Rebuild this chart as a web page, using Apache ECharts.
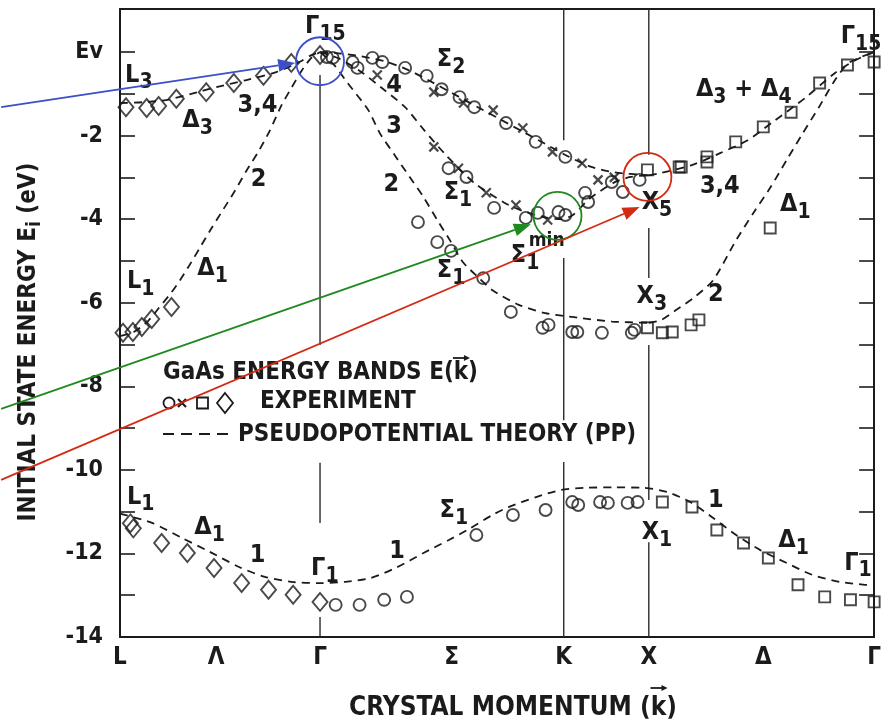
<!DOCTYPE html>
<html><head><meta charset="utf-8">
<script src="https://cdn.jsdelivr.net/npm/echarts@6/dist/echarts.min.js"></script>
<style>html,body{margin:0;padding:0;background:#fff}#c{width:884px;height:726px}</style>
</head><body><div id="c"></div>
<script>
// ---------- axes ----------
const kTickValues = [0, 0.418, 0.87, 1.442, 1.93, 2.30, 2.798, 3.28];
const kTickLabels = ['L', 'Λ', 'Γ', 'Σ', 'K', 'X', 'Δ', 'Γ'];
const eTickValues = [-14,-13,-12,-11,-10,-9,-8,-7,-6,-5,-4,-3,-2,-1,0];
const eLabelValues = [-14,-12,-10,-8,-6,-4,-2,0];
const eLabelTexts = ['-14','-12','-10','-8','-6','-4','-2','Ev'];
const symPoints = [0.87, 1.93, 2.30];

// ---------- pseudopotential theory (dashed) ----------
const ppLG34 = [[0,-1.22],[0.10,-1.20],[0.20,-1.15],[0.31,-1.00],[0.42,-0.84],[0.55,-0.67],[0.68,-0.48],[0.78,-0.24],[0.83,-0.08],[0.87,0]];
const ppLG2 = [[0,-6.80],[0.06,-6.70],[0.12,-6.45],[0.17,-6.12],[0.22,-5.78],[0.26,-5.47],[0.30,-5.12],[0.35,-4.66],[0.40,-4.20],[0.45,-3.76],[0.50,-3.32],[0.55,-2.84],[0.60,-2.40],[0.65,-1.90],[0.70,-1.30],[0.74,-0.91],[0.79,-0.45],[0.83,-0.15],[0.87,0]];
const ppSigma4 = [[0.87,0],[0.95,-0.03],[1.05,-0.10],[1.15,-0.22],[1.25,-0.42],[1.35,-0.70],[1.45,-1.00],[1.55,-1.30],[1.65,-1.60],[1.75,-1.90],[1.85,-2.20],[1.95,-2.50],[2.05,-2.75],[2.15,-2.88],[2.30,-2.95]];
const ppSigma3 = [[0.87,0],[0.95,-0.15],[1.05,-0.48],[1.15,-0.91],[1.24,-1.32],[1.32,-1.85],[1.41,-2.42],[1.54,-3.13],[1.67,-3.60],[1.75,-3.80],[1.85,-3.96],[1.92,-4.00],[1.97,-3.90],[2.04,-3.52],[2.15,-3.12],[2.22,-2.99],[2.30,-2.95]];
const ppSigma2 = [[0.87,0],[0.93,-0.30],[0.99,-0.74],[1.08,-1.39],[1.13,-1.94],[1.20,-2.51],[1.26,-2.99],[1.32,-3.47],[1.38,-4.02],[1.44,-4.55],[1.49,-5.02],[1.56,-5.40],[1.62,-5.70],[1.735,-6.05],[1.85,-6.25],[1.94,-6.32],[2.01,-6.37],[2.14,-6.45],[2.30,-6.48]];
const ppDelta34 = [[2.30,-2.95],[2.35,-2.90],[2.49,-2.70],[2.61,-2.42],[2.73,-2.11],[2.85,-1.63],[2.98,-1.10],[3.11,-0.50],[3.20,-0.19],[3.28,0]];
const ppDelta1 = [[2.30,-6.48],[2.355,-6.41],[2.42,-6.17],[2.50,-5.86],[2.58,-5.46],[2.68,-4.50],[2.755,-3.85],[2.83,-3.23],[2.90,-2.58],[2.97,-1.94],[3.04,-1.32],[3.11,-0.67],[3.17,-0.26],[3.28,0]];
const ppBand1 = [[0,-11.05],[0.14,-11.27],[0.27,-11.63],[0.39,-11.96],[0.52,-12.33],[0.63,-12.56],[0.745,-12.68],[0.87,-12.71],[0.98,-12.68],[1.09,-12.59],[1.205,-12.33],[1.32,-11.99],[1.43,-11.68],[1.51,-11.44],[1.62,-11.08],[1.69,-10.89],[1.81,-10.65],[1.92,-10.48],[2.02,-10.43],[2.15,-10.42],[2.28,-10.43],[2.38,-10.53],[2.48,-10.77],[2.58,-11.15],[2.68,-11.56],[2.785,-11.92],[2.90,-12.23],[3.01,-12.51],[3.13,-12.68],[3.24,-12.75],[3.28,-12.76]];

// ---------- experiment ----------
const expCircles = [[0.90,-0.12],[0.925,-0.14],[1.012,-0.24],[1.033,-0.38],[1.098,-0.14],[1.141,-0.24],[1.240,-0.38],[1.334,-0.57],[1.399,-0.89],[1.477,-1.08],[1.541,-1.32],[1.679,-1.70],[1.808,-2.15],[1.937,-2.51],
  [1.429,-2.78],[1.507,-2.99],[1.627,-3.73],[1.765,-3.97],[1.817,-3.85],[1.907,-3.83],[1.937,-3.90],[2.023,-3.37],[2.036,-3.59],[2.139,-3.11],[2.187,-3.35],[2.260,-3.06],
  [1.296,-4.07],[1.38,-4.55],[1.44,-4.76],[1.58,-5.41],[1.70,-6.22],[1.838,-6.60],[1.864,-6.53],[1.967,-6.70],[1.989,-6.70],[2.096,-6.72],[2.226,-6.72],[2.238,-6.65],
  [0.938,-13.23],[1.042,-13.23],[1.149,-13.11],[1.248,-13.04],[1.55,-11.56],[1.709,-11.08],[1.851,-10.96],[1.967,-10.77],[1.993,-10.84],[2.088,-10.77],[2.122,-10.79],[2.208,-10.79],[2.251,-10.77]];
const expCrosses = [[1.119,-0.55],[1.365,-0.96],[1.494,-1.22],[1.623,-1.39],[1.752,-1.82],[1.881,-2.39],[2.010,-2.66],[1.365,-2.27],[1.472,-2.78],[1.593,-3.37],[1.722,-3.66],[1.860,-4.02],[2.079,-3.06],[2.15,-3.00]];
const expSquares = [[2.294,-2.82],[2.432,-2.75],[2.441,-2.75],[2.553,-2.51],[2.553,-2.63],[2.678,-2.15],[2.798,-1.79],[2.919,-1.44],[3.043,-0.74],[3.164,-0.31],[3.28,-0.24],[2.828,-4.21],
  [2.294,-6.60],[2.359,-6.72],[2.402,-6.70],[2.484,-6.53],[2.518,-6.41],
  [2.359,-10.77],[2.488,-10.89],[2.596,-11.44],[2.712,-11.75],[2.820,-12.11],[2.949,-12.75],[3.065,-13.04],[3.177,-13.11],[3.28,-13.16]];
const expDiamonds = [[0.026,-1.32],[0.116,-1.34],[0.168,-1.29],[0.245,-1.12],[0.375,-0.96],[0.495,-0.74],[0.624,-0.57],[0.745,-0.26],[0.870,-0.07],
  [0.013,-6.72],[0.056,-6.70],[0.095,-6.58],[0.138,-6.39],[0.224,-6.10],
  [0.045,-11.28],[0.058,-11.40],[0.181,-11.75],[0.293,-11.99],[0.409,-12.35],[0.529,-12.71],[0.646,-12.87],[0.753,-12.99],[0.870,-13.16]];

// ---------- band labels [k, E, main, subscript, align] ----------
const bandLabels = [
  [0.022,-0.55,'L','3','l'], [0.271,-1.65,'Δ','3','l'], [0.598,-1.29,'3,4','','c'], [0.603,-3.06,'2','','c'],
  [0.030,-5.50,'L','1','l'], [0.336,-5.17,'Δ','1','l'], [0.805,0.62,'Γ','15','l'],
  [1.378,-0.17,'Σ','2','l'], [1.192,-0.81,'4','','c'], [1.192,-1.79,'3','','c'], [1.180,-3.18,'2','','c'],
  [1.408,-3.37,'Σ','1','l'], [1.378,-5.24,'Σ','1','l'], [1.700,-4.88,'Σ','1','l'],
  [2.247,-5.86,'X','3','l'], [2.592,-5.81,'2','','c'], [2.269,-3.61,'X','5','l'], [2.609,-3.23,'3,4','','c'],
  [2.871,-3.64,'Δ','1','l'], [3.135,0.36,'Γ','15','l'],
  [0.030,-10.65,'L','1','l'], [0.323,-11.39,'Δ','1','l'], [0.598,-12.06,'1','','c'], [0.831,-12.35,'Γ','1','l'],
  [1.205,-11.96,'1','','c'], [1.390,-10.98,'Σ','1','l'], [2.269,-11.51,'X','1','l'], [2.592,-10.74,'1','','c'],
  [2.863,-11.70,'Δ','1','l'], [3.150,-12.23,'Γ','1','l']
];

const INK = '#1b1b1b';
const FONT = '"DejaVu Sans Condensed","Liberation Sans Narrow","DejaVu Sans",sans-serif';

function dashed(name, data) {
  return { name, type: 'line', data, smooth: 0.25, symbol: 'none', silent: true, z: 2,
    lineStyle: { color: INK, width: 1.8, type: [8, 6] } };
}
function pts(name, data, symbol, size, bw) {
  return { name, type: 'scatter', data, symbol, symbolSize: size, z: 3,
    itemStyle: { color: 'rgba(0,0,0,0)', borderColor: INK, borderWidth: bw || 1.9 } };
}
function near(arr, v) { return arr.findIndex(a => Math.abs(a - v) < 1e-6); }

const chart = echarts.init(document.getElementById('c'));
const axisLineStyle = { color: INK, width: 2 };
chart.setOption({
  animation: false,
  grid: { left: 120, right: 2, top: 9, bottom: 89 },
  xAxis: [
    { type: 'value', min: 0, max: 3.28, position: 'bottom',
      axisLine: { show: true, onZero: false, lineStyle: axisLineStyle }, axisTick: { show: false }, splitLine: { show: false },
      axisLabel: { customValues: kTickValues, formatter: v => kTickLabels[near(kTickValues, v)] || '',
        color: INK, fontFamily: FONT, fontWeight: 'bold', fontSize: 24, margin: 9 } },
    { type: 'value', min: 0, max: 3.28, position: 'top',
      axisLine: { show: true, onZero: false, lineStyle: axisLineStyle }, axisTick: { show: false }, axisLabel: { show: false }, splitLine: { show: false } }
  ],
  yAxis: [
    { type: 'value', min: -14, max: 1.03, position: 'left',
      axisLine: { show: true, onZero: false, lineStyle: axisLineStyle },
      axisTick: { show: true, inside: true, length: 15, customValues: eTickValues, lineStyle: { color: INK, width: 1.6 } },
      axisLabel: { customValues: eLabelValues, formatter: v => eLabelTexts[near(eLabelValues, v)] || '',
        color: INK, fontFamily: FONT, fontWeight: 'bold', fontSize: 23, margin: 17 },
      splitLine: { show: false } },
    { type: 'value', min: -14, max: 1.03, position: 'right',
      axisLine: { show: true, onZero: false, lineStyle: axisLineStyle },
      axisTick: { show: true, inside: true, length: 15, customValues: eTickValues, lineStyle: { color: INK, width: 1.6 } },
      axisLabel: { show: false }, splitLine: { show: false } }
  ],
  series: [
    dashed('PP L-Γ 3,4', ppLG34), dashed('PP L-Γ 2', ppLG2),
    dashed('PP Σ 4', ppSigma4), dashed('PP Σ 3', ppSigma3), dashed('PP Σ 2', ppSigma2),
    dashed('PP Δ 3,4', ppDelta34), dashed('PP Δ 2', ppDelta1), dashed('PP band 1', ppBand1),
    pts('Experiment circles', expCircles, 'circle', 12),
    pts('Experiment crosses', expCrosses, 'path://M0,0L10,10M10,0L0,10', 9, 2.2),
    pts('Experiment squares', expSquares, 'rect', 11),
    pts('Experiment diamonds', expDiamonds, 'diamond', [15, 18])
  ]
});

// ---------- overlays ----------
const P = (k, E) => chart.convertToPixel({ xAxisIndex: 0, yAxisIndex: 0 }, [k, E]);
const mctx = document.createElement('canvas').getContext('2d');
function tw(str, size) { mctx.font = 'bold ' + size + 'px ' + FONT; return mctx.measureText(str).width; }
const G = [];
const MAIN = 25, SUB = 21;

// symmetry-point vertical lines (broken around labels)
const vSegs = [[0,-0.55,-7.01],[0,-9.83,-11.27],[0,-13.52,-14],[1,1.03,-2.11],[1,-4.93,-8.81],[1,-9.81,-14],[2,1.03,-2.46],[2,-4.21,-5.41],[2,-7.01,-10.72],[2,-11.73,-14]];
vSegs.forEach(s => {
  const a = P(symPoints[s[0]], s[1]), b = P(symPoints[s[0]], s[2]);
  G.push({ type: 'line', shape: { x1: a[0], y1: a[1], x2: b[0], y2: b[1] }, style: { stroke: '#2a2a2a', lineWidth: 1.4 }, z: 1 });
});

const richSub = {
  m: { fontFamily: FONT, fontWeight: 'bold', fontSize: MAIN, lineHeight: 24, padding: [0, 0, 8, 0], fill: INK },
  s: { fontFamily: FONT, fontWeight: 'bold', fontSize: SUB, lineHeight: 24, padding: [8, 0, 0, 0], fill: INK }
};
// band labels
bandLabels.forEach(b => {
  const p = P(b[0], b[1]);
  if (b[3]) {
    G.push({ type: 'text', x: p[0], y: p[1] + 4, z: 5, style: {
      text: '{m|' + b[2] + '}{s|' + b[3] + '}', align: 'left', verticalAlign: 'middle', fill: INK, rich: richSub } });
  } else {
    G.push({ type: 'text', x: p[0], y: p[1], z: 5, style: { text: b[2], align: 'center', verticalAlign: 'middle',
      fontFamily: FONT, fontWeight: 'bold', fontSize: MAIN, fill: INK } });
  }
});
// "min" superscript and Δ3 + Δ4
(function () {
  const p = P(1.778, -4.52);
  G.push({ type: 'text', x: p[0], y: p[1], z: 5, style: { text: 'min', align: 'left', verticalAlign: 'middle', fontFamily: FONT, fontWeight: 'bold', fontSize: 19, fill: INK } });
  const q = P(2.505, -0.89);
  G.push({ type: 'text', x: q[0], y: q[1] + 4, z: 5, style: {
    text: '{m|Δ}{s|3}{m| + Δ}{s|4}', align: 'left', verticalAlign: 'middle', fill: INK, rich: richSub } });
})();

// vector arrow helper (small arrow above a letter)
function vecArrow(cx, y) {
  G.push({ type: 'line', shape: { x1: cx - 8, y1: y, x2: cx + 7, y2: y }, style: { stroke: INK, lineWidth: 1.8 }, z: 5 });
  G.push({ type: 'polygon', shape: { points: [[cx + 9, y], [cx + 3, y - 3], [cx + 3, y + 3]] }, style: { fill: INK }, z: 5 });
}

// legend block
const LX = 163, LS = 24;
G.push({ type: 'text', x: LX, y: 373, z: 5, style: { text: 'GaAs ENERGY BANDS E(k)', align: 'left', verticalAlign: 'middle', fontFamily: FONT, fontWeight: 'bold', fontSize: LS, fill: INK } });
vecArrow(LX + tw('GaAs ENERGY BANDS E(', LS) + tw('k', LS) / 2, 358);
G.push({ type: 'circle', shape: { cx: 169, cy: 403, r: 5.5 }, style: { fill: 'none', stroke: INK, lineWidth: 1.8 }, z: 5 });
G.push({ type: 'polyline', shape: { points: [[178, 399], [186, 407]] }, style: { stroke: INK, lineWidth: 2.2 }, z: 5 });
G.push({ type: 'polyline', shape: { points: [[186, 399], [178, 407]] }, style: { stroke: INK, lineWidth: 2.2 }, z: 5 });
G.push({ type: 'rect', shape: { x: 197, y: 397.5, width: 11, height: 11 }, style: { fill: 'none', stroke: INK, lineWidth: 1.8 }, z: 5 });
G.push({ type: 'polygon', shape: { points: [[225, 393], [233, 403], [225, 413], [217, 403]] }, style: { fill: 'none', stroke: INK, lineWidth: 1.8 }, z: 5 });
G.push({ type: 'text', x: 260, y: 402, z: 5, style: { text: 'EXPERIMENT', align: 'left', verticalAlign: 'middle', fontFamily: FONT, fontWeight: 'bold', fontSize: LS, fill: INK } });
G.push({ type: 'line', shape: { x1: 163, y1: 434, x2: 228, y2: 434 }, style: { stroke: INK, lineWidth: 2, lineDash: [11, 7] }, z: 5 });
G.push({ type: 'text', x: 238, y: 435, z: 5, style: { text: 'PSEUDOPOTENTIAL THEORY (PP)', align: 'left', verticalAlign: 'middle', fontFamily: FONT, fontWeight: 'bold', fontSize: LS, fill: INK } });

// axis titles
const XT = 'CRYSTAL MOMENTUM (k)', XS = 26, xtCx = 513, xtY = 708;
G.push({ type: 'text', x: xtCx, y: xtY, z: 5, style: { text: XT, align: 'center', verticalAlign: 'middle', fontFamily: FONT, fontWeight: 'bold', fontSize: XS, fill: INK } });
vecArrow(xtCx - tw(XT, XS) / 2 + tw('CRYSTAL MOMENTUM (', XS) + tw('k', XS) / 2, 688);
G.push({ type: 'text', x: 32, y: 342, rotation: Math.PI / 2, z: 5, style: {
  text: '{m|INITIAL STATE ENERGY E}{s|i}{m| (eV)}', align: 'center', verticalAlign: 'middle', fill: INK,
  rich: { m: { fontFamily: FONT, fontWeight: 'bold', fontSize: 24, lineHeight: 24, padding: [0, 0, 6, 0], fill: INK },
          s: { fontFamily: FONT, fontWeight: 'bold', fontSize: 19, lineHeight: 24, padding: [6, 0, 0, 0], fill: INK } } } });

// coloured annotation circles and arrows
const callouts = [
  { color: '#3d4fc8', center: [0.87, -0.22], from: [-0.517, -1.32], tip: [0.762, -0.26] },
  { color: '#1f8a1f', center: [1.903, -3.92], from: [-0.517, -8.54], tip: [1.787, -4.12] },
  { color: '#d42a12', center: [2.294, -2.99], from: [-0.517, -10.24], tip: [2.260, -3.71] }
];
callouts.forEach(c => {
  const o = P(c.center[0], c.center[1]), a = P(c.from[0], c.from[1]), t = P(c.tip[0], c.tip[1]);
  G.push({ type: 'circle', shape: { cx: o[0], cy: o[1], r: 24 }, style: { fill: 'none', stroke: c.color, lineWidth: 1.8 }, z: 6 });
  const dx = t[0] - a[0], dy = t[1] - a[1], L = Math.hypot(dx, dy), ux = dx / L, uy = dy / L;
  const bx = t[0] - ux * 17, by = t[1] - uy * 17;
  G.push({ type: 'line', shape: { x1: a[0], y1: a[1], x2: bx, y2: by }, style: { stroke: c.color, lineWidth: 1.8 }, z: 6 });
  G.push({ type: 'polygon', shape: { points: [[t[0], t[1]], [bx - uy * 6.5, by + ux * 6.5], [bx + uy * 6.5, by - ux * 6.5]] }, style: { fill: c.color }, z: 6 });
});

chart.setOption({ graphic: { elements: G } });
</script></body></html>
